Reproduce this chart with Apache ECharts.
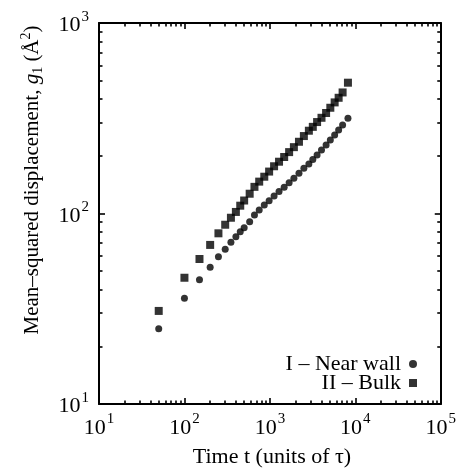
<!DOCTYPE html>
<html>
<head>
<meta charset="utf-8">
<script src="https://cdn.jsdelivr.net/npm/echarts@6/dist/echarts.min.js"></script>
<style>
html,body{margin:0;padding:0;background:#fff;}
#chart{width:459px;height:470px;}
</style>
</head>
<body>
<div id="chart"></div>
<script>
// Time t (units of tau)
const times = [50,100,150,200,250,300,350,400,450,500,580,660,750,860,980,1120,1280,1470,1680,1910,2190,2500,2860,3180,3570,4020,4550,5100,5730,6380,7100,8200];
// I - Near wall
const nearWall = [24.8,35.9,44.9,52.3,59.2,64.9,70.6,75.5,80.2,84.1,90.4,98.2,104.2,110.9,116.7,123.6,130.3,137.4,145.2,153.1,162.6,172.6,182.0,192.3,202.8,215.3,229.1,243.2,258.2,274.2,291.7,316];
// II - Bulk
const bulk = [30.8,46,57.7,68.4,78.7,87.3,95,101.9,109.9,117,127,138,147,156,166,177,187,198,210,223,238,255,272,285,302,318,337,359,383,405,432,486];

const seriesNames = ['I \u2013 Near wall', 'II \u2013 Bulk'];
const xMajorTicks = [10, 100, 1000, 10000, 100000];
const yMajorTicks = [10, 100, 1000];
const minorMultipliers = [2,3,4,5,6,7,8,9];

function minorTicks(major) {
  const out = [];
  for (let i = 0; i < major.length - 1; i++) {
    minorMultipliers.forEach(m => out.push(major[i] * m));
  }
  return out;
}
const xMinor = minorTicks(xMajorTicks);
const yMinor = minorTicks(yMajorTicks);

const FONT = 'Liberation Serif';
const richLabel = {
  b: {fontFamily: FONT, fontSize: 22, color: '#000', lineHeight: 27, verticalAlign: 'bottom'},
  s: {fontFamily: FONT, fontSize: 15, color: '#000', lineHeight: 15, verticalAlign: 'top', padding: [0,0,0,1]}
};
function powLabel(v) {
  return '{b|10}{s|' + Math.round(Math.log10(v)) + '}';
}

function makeAxis(pos, min, max, major, minor, isMajor, showLabel, isY) {
  return {
    type: 'log',
    logBase: 10,
    position: pos,
    min: min, max: max,
    gridIndex: 0,
    axisLine: {show: isMajor, onZero: false, lineStyle: {color: '#000', width: 2}},
    axisTick: {show: true, inside: true, length: isMajor ? 6 : 3.5,
      customValues: isMajor ? major : minor,
      lineStyle: {color: '#000', width: 1.6}},
    axisLabel: {show: showLabel, customValues: major, formatter: powLabel, rich: richLabel,
      margin: isY ? 10 : 8},
    splitLine: {show: false},
    minorTick: {show: false},
    minorSplitLine: {show: false}
  };
}

const chart = echarts.init(document.getElementById('chart'), null, {renderer: 'canvas'});
chart.setOption({
  backgroundColor: '#fff',
  animation: false,
  grid: {left: 99, right: 16, top: 23, bottom: 66, containLabel: false},
  xAxis: [
    makeAxis('bottom', 10, 100000, xMajorTicks, xMinor, true, true, false),
    makeAxis('top', 10, 100000, xMajorTicks, xMinor, true, false, false),
    makeAxis('bottom', 10, 100000, xMajorTicks, xMinor, false, false, false),
    makeAxis('top', 10, 100000, xMajorTicks, xMinor, false, false, false)
  ],
  yAxis: [
    makeAxis('left', 10, 1000, yMajorTicks, yMinor, true, true, true),
    makeAxis('right', 10, 1000, yMajorTicks, yMinor, true, false, true),
    makeAxis('left', 10, 1000, yMajorTicks, yMinor, false, false, true),
    makeAxis('right', 10, 1000, yMajorTicks, yMinor, false, false, true)
  ],
  legend: {
    orient: 'vertical',
    align: 'right',
    right: 42,
    top: 353,
    padding: 0,
    itemGap: -3,
    itemWidth: 8,
    itemHeight: 8,
    textStyle: {fontFamily: FONT, fontSize: 22, color: '#000', lineHeight: 19, padding: [0, 3, 0, 0]},
    data: seriesNames
  },
  series: [
    {
      name: seriesNames[0],
      type: 'scatter',
      xAxisIndex: 0, yAxisIndex: 0,
      symbol: 'circle',
      symbolSize: 7,
      itemStyle: {color: '#000'},
      data: times.map((t, i) => [t, nearWall[i]])
    },
    {
      name: seriesNames[1],
      type: 'scatter',
      xAxisIndex: 0, yAxisIndex: 0,
      symbol: 'rect',
      symbolSize: 8,
      itemStyle: {color: '#000'},
      data: times.map((t, i) => [t, bulk[i]])
    }
  ],
  graphic: [
    {
      type: 'text',
      x: 272, y: 457,
      style: {
        text: 'Time t (units of \u03c4)',
        font: '22px "Liberation Serif"',
        fill: '#000',
        align: 'center',
        verticalAlign: 'middle'
      }
    },
    {
      type: 'text',
      x: 32, y: 180,
      rotation: Math.PI / 2,
      style: {
        text: '{t|Mean\u2013squared displacement, }{i|g}{sub|1}{t| (\u00c5}{sup|2}{t|)}',
        align: 'center',
        verticalAlign: 'middle',
        rich: {
          t: {fontFamily: FONT, fontSize: 21, fill: '#000', lineHeight: 26, verticalAlign: 'middle'},
          i: {fontFamily: FONT, fontSize: 21, fontStyle: 'italic', fill: '#000', lineHeight: 26, verticalAlign: 'middle'},
          sub: {fontFamily: FONT, fontSize: 14, fill: '#000', lineHeight: 14, verticalAlign: 'bottom'},
          sup: {fontFamily: FONT, fontSize: 14, fill: '#000', lineHeight: 14, verticalAlign: 'top'}
        }
      }
    }
  ]
});
</script>
</body>
</html>
